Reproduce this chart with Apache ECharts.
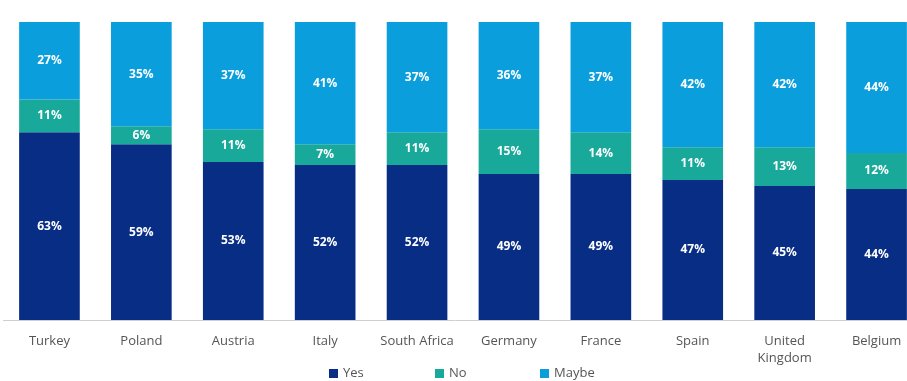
<!DOCTYPE html>
<html>
<head>
<meta charset="utf-8">
<script src="https://cdn.jsdelivr.net/npm/echarts@6/dist/echarts.min.js"></script>
<style>
  html, body { margin: 0; padding: 0; background: #fff; }
  #chart { width: 907px; height: 381px; }
</style>
</head>
<body>
<div id="chart"></div>
<script>
// Share of respondents per country, in percent
const countries = ['Turkey', 'Poland', 'Austria', 'Italy', 'South Africa', 'Germany', 'France', 'Spain', 'United\nKingdom', 'Belgium'];
const yesValues = [63, 59, 53, 52, 52, 49, 49, 47, 45, 44];
const noValues = [11, 6, 11, 7, 11, 15, 14, 11, 13, 12];
const maybeValues = [27, 35, 37, 41, 37, 36, 37, 42, 42, 44];
const seriesNames = ['Yes', 'No', 'Maybe'];

const chart = echarts.init(document.getElementById('chart'));

const segLabel = {
  show: true,
  position: 'inside',
  color: '#ffffff',
  fontFamily: 'Open Sans',
  fontWeight: 'bold',
  fontSize: 12,
  formatter: p => p.value + '%'
};

function stackSeries(name, data, color) {
  return {
    name: name,
    type: 'bar',
    stack: 'total',
    data: data,
    barWidth: '66%',
    itemStyle: { color: color },
    label: segLabel,
    emphasis: { disabled: true }
  };
}

// one legend block per series, laid out on an even step
const legendLeft = [324, 430, 535];
const legends = seriesNames.map((n, i) => ({
  bottom: -4,
  left: legendLeft[i],
  itemWidth: 9,
  itemHeight: 9,
  icon: 'rect',
  selectedMode: false,
  textStyle: { fontFamily: 'Open Sans', fontSize: 13, color: '#555' },
  data: [n]
}));

chart.setOption({
  animation: false,
  // the plot runs a little past the right edge so the last bar is cut off
  grid: { left: 3.5, width: 919, top: 22, bottom: 61, outerBoundsMode: 'none', containLabel: false },
  legend: legends,
  xAxis: {
    type: 'category',
    data: countries,
    axisLine: { lineStyle: { color: '#cfcfcf', width: 1 } },
    axisTick: { show: false },
    axisLabel: {
      interval: 0,
      color: '#555',
      fontFamily: 'Open Sans',
      fontSize: 13,
      margin: 13,
      lineHeight: 17
    }
  },
  yAxis: {
    type: 'value',
    min: 0,
    max: 100,
    show: false,
    splitLine: { show: false }
  },
  series: [
    stackSeries(seriesNames[0], yesValues, '#082d85'),
    stackSeries(seriesNames[1], noValues, '#18a99b'),
    stackSeries(seriesNames[2], maybeValues, '#0a9fdc')
  ]
});
</script>
</body>
</html>
